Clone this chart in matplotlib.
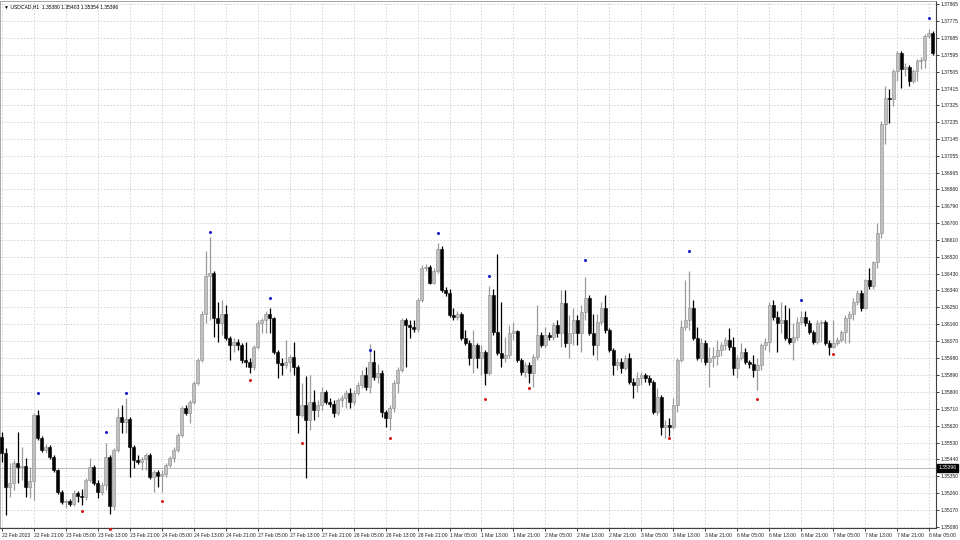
import matplotlib
matplotlib.use("Agg")
import matplotlib.pyplot as plt
import matplotlib.transforms as mtransforms
import numpy as np

plt.rcParams['font.family'] = ['Liberation Sans', 'DejaVu Sans']

# USDCAD H1 candles
chart_title = "\u25bc USDCAD,H1  1.35380 1.35403 1.35354 1.35396"
bid_price = 1.35396
first_open = 1.35558

close_prices = [
    1.35473, 1.35293, 1.35314, 1.35420, 1.35399, 1.35404, 1.35293, 1.35324, 1.35675, 1.35553,
    1.35489, 1.35505, 1.35452, 1.35383, 1.35266, 1.35213, 1.35218, 1.35202, 1.35261, 1.35245,
    1.35239, 1.35330, 1.35399, 1.35314, 1.35266, 1.35303, 1.35452, 1.35192, 1.35489, 1.35665,
    1.35638, 1.35654, 1.35505, 1.35436, 1.35426, 1.35441, 1.35463, 1.35346, 1.35372, 1.35351,
    1.35362, 1.35410, 1.35447, 1.35489, 1.35569, 1.35713, 1.35686, 1.35744, 1.35845, 1.35968,
    1.36217, 1.36419, 1.36435, 1.36191, 1.36164, 1.36217, 1.36085, 1.36047, 1.36063, 1.36047,
    1.35968, 1.35957, 1.35930, 1.36037, 1.36164, 1.36180, 1.36217, 1.36191, 1.36010, 1.35952,
    1.35941, 1.35957, 1.35984, 1.35930, 1.35675, 1.35728, 1.35649, 1.35744, 1.35702, 1.35728,
    1.35798, 1.35744, 1.35734, 1.35686, 1.35755, 1.35766, 1.35792, 1.35744, 1.35792, 1.35835,
    1.35888, 1.35824, 1.35957, 1.35877, 1.35899, 1.35691, 1.35659, 1.35713, 1.35845, 1.35914,
    1.36180, 1.36154, 1.36143, 1.36132, 1.36287, 1.36457, 1.36467, 1.36382, 1.36446, 1.36563,
    1.36340, 1.36324, 1.36207, 1.36196, 1.36217, 1.36085, 1.36058, 1.35978, 1.36047, 1.35978,
    1.36010, 1.35899, 1.36313, 1.36116, 1.36005, 1.35978, 1.35994, 1.36111, 1.36122, 1.35968,
    1.35904, 1.35941, 1.35899, 1.35984, 1.36100, 1.36047, 1.36100, 1.36090, 1.36154, 1.36111,
    1.36271, 1.36058, 1.36111, 1.36180, 1.36111, 1.36223, 1.36302, 1.36111, 1.36047, 1.36170,
    1.36244, 1.36127, 1.36021, 1.35941, 1.35957, 1.35925, 1.35978, 1.35851, 1.35835, 1.35872,
    1.35888, 1.35872, 1.35851, 1.35691, 1.35771, 1.35612, 1.35622, 1.35612, 1.35728, 1.35968,
    1.36143, 1.36180, 1.36244, 1.36085, 1.35978, 1.36058, 1.35957, 1.35978, 1.35989, 1.36021,
    1.36047, 1.36074, 1.36037, 1.35925, 1.35978, 1.36010, 1.35957, 1.35946, 1.35914, 1.35941,
    1.36047, 1.36063, 1.36260, 1.36196, 1.36164, 1.36180, 1.36085, 1.36063, 1.36090, 1.36170,
    1.36196, 1.36164, 1.36116, 1.36063, 1.36164, 1.36170, 1.36058, 1.36037, 1.36058, 1.36074,
    1.36116, 1.36191, 1.36217, 1.36276, 1.36324, 1.36249, 1.36393, 1.36366, 1.36489, 1.36648,
    1.37227, 1.37365, 1.37360, 1.37509, 1.37605, 1.37520, 1.37530, 1.37456, 1.37509, 1.37562,
    1.37567, 1.37695, 1.37711, 1.37605,
]

high_prices = [
    1.35585, 1.35500, 1.35420, 1.35436, 1.35585, 1.35505, 1.35447, 1.35399, 1.35686, 1.35702,
    1.35564, 1.35521, 1.35516, 1.35463, 1.35388, 1.35277, 1.35229, 1.35229, 1.35277, 1.35271,
    1.35282, 1.35340, 1.35447, 1.35410, 1.35330, 1.35319, 1.35527, 1.35463, 1.35500, 1.35713,
    1.35728, 1.35766, 1.35665, 1.35516, 1.35463, 1.35452, 1.35473, 1.35473, 1.35383, 1.35383,
    1.35383, 1.35420, 1.35457, 1.35505, 1.35580, 1.35723, 1.35728, 1.35755, 1.35856, 1.35978,
    1.36233, 1.36552, 1.36627, 1.36446, 1.36276, 1.36287, 1.36260, 1.36095, 1.36085, 1.36079,
    1.36058, 1.36063, 1.35978, 1.36047, 1.36180, 1.36191, 1.36228, 1.36244, 1.36201, 1.36021,
    1.35978, 1.36074, 1.35994, 1.36063, 1.35941, 1.35845, 1.35883, 1.35888, 1.35808, 1.35755,
    1.35824, 1.35808, 1.35766, 1.35755, 1.35766, 1.35782, 1.35808, 1.35819, 1.35808, 1.35851,
    1.35914, 1.35930, 1.36053, 1.36021, 1.35946, 1.35914, 1.35702, 1.35728, 1.35861, 1.35930,
    1.36191, 1.36191, 1.36180, 1.36180, 1.36297, 1.36473, 1.36483, 1.36478, 1.36462, 1.36590,
    1.36574, 1.36356, 1.36350, 1.36244, 1.36233, 1.36223, 1.36127, 1.36074, 1.36127, 1.36058,
    1.36047, 1.36021, 1.36366, 1.36350, 1.36536, 1.36276, 1.36090, 1.36154, 1.36170, 1.36127,
    1.35978, 1.35957, 1.35957, 1.35999, 1.36260, 1.36116, 1.36143, 1.36116, 1.36170, 1.36180,
    1.36340, 1.36340, 1.36207, 1.36249, 1.36207, 1.36260, 1.36409, 1.36318, 1.36217, 1.36217,
    1.36276, 1.36313, 1.36138, 1.36031, 1.35978, 1.35978, 1.35994, 1.36005, 1.35872, 1.35904,
    1.35904, 1.35899, 1.35888, 1.35861, 1.35819, 1.35782, 1.35649, 1.35659, 1.35766, 1.35978,
    1.36180, 1.36393, 1.36441, 1.36287, 1.36143, 1.36085, 1.36074, 1.36037, 1.36037, 1.36074,
    1.36063, 1.36090, 1.36138, 1.36090, 1.35994, 1.36058, 1.36031, 1.35968, 1.35994, 1.35978,
    1.36058, 1.36085, 1.36276, 1.36287, 1.36233, 1.36276, 1.36260, 1.36249, 1.36164, 1.36196,
    1.36233, 1.36233, 1.36180, 1.36127, 1.36180, 1.36180, 1.36180, 1.36074, 1.36180, 1.36090,
    1.36127, 1.36207, 1.36233, 1.36297, 1.36340, 1.36340, 1.36403, 1.36457, 1.36499, 1.36701,
    1.37243, 1.37429, 1.37413, 1.37520, 1.37615, 1.37615, 1.37552, 1.37541, 1.37520, 1.37573,
    1.37583, 1.37706, 1.37732, 1.37722,
]

low_prices = [
    1.35426, 1.35144, 1.35239, 1.35277, 1.35314, 1.35330, 1.35239, 1.35234, 1.35224, 1.35542,
    1.35479, 1.35473, 1.35441, 1.35372, 1.35255, 1.35202, 1.35181, 1.35192, 1.35192, 1.35213,
    1.35197, 1.35224, 1.35319, 1.35303, 1.35234, 1.35250, 1.35277, 1.35149, 1.35170, 1.35479,
    1.35580, 1.35580, 1.35346, 1.35394, 1.35415, 1.35383, 1.35383, 1.35335, 1.35266, 1.35293,
    1.35266, 1.35346, 1.35399, 1.35426, 1.35479, 1.35558, 1.35675, 1.35633, 1.35734, 1.35835,
    1.35957, 1.36164, 1.36180, 1.36090, 1.36063, 1.36100, 1.36074, 1.35968, 1.36010, 1.36021,
    1.35952, 1.35930, 1.35899, 1.35914, 1.36026, 1.36111, 1.36111, 1.36111, 1.35999, 1.35872,
    1.35888, 1.35925, 1.35904, 1.35888, 1.35580, 1.35665, 1.35340, 1.35596, 1.35649, 1.35665,
    1.35702, 1.35734, 1.35718, 1.35665, 1.35675, 1.35718, 1.35713, 1.35713, 1.35728, 1.35782,
    1.35819, 1.35808, 1.35792, 1.35861, 1.35845, 1.35665, 1.35612, 1.35596, 1.35691, 1.35792,
    1.35904, 1.35930, 1.36085, 1.36116, 1.36116, 1.36276, 1.36446, 1.36372, 1.36372, 1.36435,
    1.36329, 1.36308, 1.36196, 1.36180, 1.36180, 1.36074, 1.36047, 1.35941, 1.35899, 1.35925,
    1.35888, 1.35835, 1.35888, 1.36100, 1.35994, 1.35930, 1.35957, 1.35978, 1.36074, 1.35957,
    1.35888, 1.35877, 1.35845, 1.35824, 1.35968, 1.36037, 1.36031, 1.36074, 1.36074, 1.36090,
    1.36037, 1.36037, 1.35978, 1.36047, 1.36047, 1.36010, 1.36180, 1.36100, 1.35994, 1.35968,
    1.36154, 1.36111, 1.36010, 1.35888, 1.35914, 1.35899, 1.35914, 1.35840, 1.35766, 1.35798,
    1.35835, 1.35851, 1.35835, 1.35681, 1.35675, 1.35569, 1.35553, 1.35564, 1.35601, 1.35691,
    1.35957, 1.36127, 1.36127, 1.36074, 1.35968, 1.35957, 1.35941, 1.35824, 1.35930, 1.35941,
    1.35989, 1.36021, 1.36021, 1.35888, 1.35872, 1.35968, 1.35946, 1.35925, 1.35877, 1.35808,
    1.35914, 1.36021, 1.36010, 1.36180, 1.36010, 1.36111, 1.36074, 1.36053, 1.35968, 1.36074,
    1.36154, 1.36148, 1.36106, 1.36053, 1.36053, 1.36063, 1.36047, 1.35994, 1.36031, 1.36047,
    1.36063, 1.36058, 1.36058, 1.36180, 1.36260, 1.36233, 1.36239, 1.36350, 1.36345, 1.36457,
    1.36621, 1.37121, 1.37233, 1.37323, 1.37456, 1.37419, 1.37482, 1.37429, 1.37445, 1.37456,
    1.37520, 1.37525, 1.37684, 1.37594,
]

# fractal-style markers above highs (blue) and below lows (red)
up_marker_bars = [9, 26, 31, 52, 67, 92, 109, 122, 146, 172, 200, 232]
up_marker_prices = [1.35792, 1.35585, 1.35792, 1.36653, 1.36297, 1.36021,
                    1.36648, 1.36419, 1.36504, 1.36552, 1.36287, 1.37791]
down_marker_bars = [20, 27, 40, 62, 75, 97, 121, 132, 167, 189, 208]
down_marker_prices = [1.35165, 1.35069, 1.35218, 1.35861, 1.35527, 1.35553,
                      1.35760, 1.35819, 1.35553, 1.35760, 1.35999]

time_labels = [
    "22 Feb 2023", "22 Feb 21:00", "23 Feb 05:00", "23 Feb 13:00", "23 Feb 21:00",
    "24 Feb 05:00", "24 Feb 13:00", "24 Feb 21:00", "27 Feb 05:00", "27 Feb 13:00",
    "27 Feb 21:00", "28 Feb 05:00", "28 Feb 13:00", "28 Feb 21:00", "1 Mar 05:00",
    "1 Mar 13:00", "1 Mar 21:00", "2 Mar 05:00", "2 Mar 13:00", "2 Mar 21:00",
    "3 Mar 05:00", "3 Mar 13:00", "3 Mar 21:00", "6 Mar 05:00", "6 Mar 13:00",
    "6 Mar 21:00", "7 Mar 05:00", "7 Mar 13:00", "7 Mar 21:00", "8 Mar 05:00",
]
price_ticks = [
    1.37865, 1.37775, 1.37685, 1.37595, 1.37505, 1.37415, 1.37325, 1.37235,
    1.37145, 1.37055, 1.36965, 1.36880, 1.36790, 1.36700, 1.36610, 1.36520,
    1.36430, 1.36340, 1.36250, 1.36160, 1.36070, 1.35980, 1.35890, 1.35800,
    1.35710, 1.35620, 1.35530, 1.35440, 1.35350, 1.35260, 1.35170, 1.35080,
]

closes = np.array(close_prices)
highs = np.array(high_prices)
lows = np.array(low_prices)
opens = np.concatenate([[first_open], closes[:-1]])
bars = np.arange(len(closes))
bull = closes >= opens

fig = plt.figure(figsize=(9.6, 5.4), dpi=100)
ax = fig.add_axes([0.0005, 12 / 540, 936 / 960, 527 / 540])
ax.set_facecolor("white")

# grid
grid_style = dict(color="#cfcfcf", linewidth=0.6, linestyle=(0, (2, 2)), zorder=0)
for p in price_ticks:
    ax.axhline(p, **grid_style)
for i in range(len(time_labels)):
    ax.axvline(8 * i, **grid_style)

# bid line
ax.axhline(bid_price, color="#b8b8b8", linewidth=0.7, zorder=1)

# wicks
ax.vlines(bars[bull], lows[bull], highs[bull], color="#9a9a9a", linewidth=0.9, zorder=2)
ax.vlines(bars[~bull], lows[~bull], highs[~bull], color="black", linewidth=0.9, zorder=2)

# bodies
min_body = 0.00004
body_h = np.maximum(np.abs(closes - opens), min_body)
body_b = np.minimum(opens, closes)
ax.bar(bars[bull], body_h[bull], bottom=body_b[bull], width=0.75,
       color="#c0c0c0", edgecolor="#8c8c8c", linewidth=0.4, zorder=3)
ax.bar(bars[~bull], body_h[~bull], bottom=body_b[~bull], width=0.75,
       color="black", edgecolor="black", linewidth=0.4, zorder=3)

# markers
ax.plot(up_marker_bars, up_marker_prices, "o", color="#1a1acc", markersize=2.2,
        markeredgewidth=0, zorder=4, clip_on=False)
ax.plot(down_marker_bars, down_marker_prices, "o", color="#e01818", markersize=2.2,
        markeredgewidth=0, zorder=4, clip_on=False)

ax.set_xlim(-0.375, 233.875)
ax.set_ylim(1.35075, 1.37881)

# axes and ticks
for side in ["top", "left"]:
    ax.spines[side].set_color("#9a9a9a")
    ax.spines[side].set_linewidth(0.6)
for side in ["right", "bottom"]:
    ax.spines[side].set_color("#404040")
    ax.spines[side].set_linewidth(0.8)

ax.yaxis.tick_right()
ax.set_yticks(price_ticks)
ax.set_yticklabels([f"{p:.5f}" for p in price_ticks])
ax.tick_params(axis="y", length=2, width=0.6, pad=1.2, labelsize=3.6, colors="#202020")

ax.set_xticks([8 * i for i in range(len(time_labels))])
ax.set_xticklabels(time_labels, ha="left")
ax.tick_params(axis="x", length=2, width=0.6, pad=1.5, labelsize=3.6, colors="#202020")

# bid price box on the axis
trans = mtransforms.blended_transform_factory(ax.transAxes, ax.transData)
ax.text(1.002, bid_price, f"{bid_price:.5f}", transform=trans, ha="left", va="center",
        fontsize=3.6, color="white", zorder=6,
        bbox=dict(boxstyle="square,pad=0.3", facecolor="black", edgecolor="black"))

ax.text(0.004, 0.993, chart_title, transform=ax.transAxes, ha="left", va="top",
        fontsize=3.6, color="black")

fig.savefig("out.png", dpi=100, facecolor="white")
